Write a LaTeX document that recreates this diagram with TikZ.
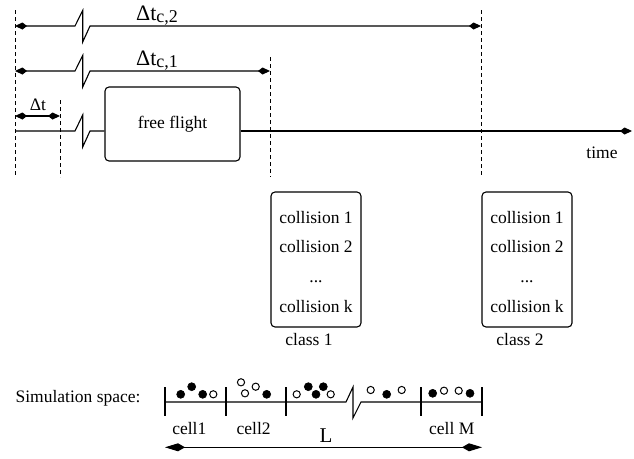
\documentclass[tikz,border=0pt]{standalone}
\usepackage{fontspec}
\setmainfont{Liberation Serif}
\usetikzlibrary{arrows.meta}
\begin{document}
\begin{tikzpicture}[x=1pt,y=-1pt,
  line width=1.1pt,
  txt/.style={font=\fontsize{17.5}{20}\selectfont, inner sep=0pt},
  guide/.style={line width=0.9pt, dash pattern=on 4pt off 3pt},
  tip/.tip={Kite[length=12pt,width=7pt,inset=4.5pt]},
  bigtip/.tip={Kite[length=20pt,width=8pt,inset=7pt]},
  dim/.style={tip-tip},
  bigdim/.style={bigtip-bigtip},
  box/.style={draw, rounded corners=4pt, inner sep=0pt, font=\fontsize{17.5}{20}\selectfont},
  colbox/.style={box, minimum width=90pt, minimum height=135pt},
  coltext/.style={inner sep=0pt, align=center, anchor=north,
    font=\fontsize{17.5}{29.7}\selectfont},
  full/.style={fill=black, draw=black, line width=0.6pt},
  hollow/.style={fill=white, draw=black, line width=1pt},
]
\useasboundingbox (0,0) rectangle (634,458);

% guide coordinates
\coordinate (g1t) at (15,10);   \coordinate (g1b) at (15,177);
\coordinate (g2t) at (60,100);  \coordinate (g2b) at (60,177);
\coordinate (g3t) at (270,57);  \coordinate (g3b) at (270,177);
\coordinate (g4t) at (481,10);  \coordinate (g4b) at (481,177);
\draw[guide] (g1t) -- (g1b);
\draw[guide] (g2t) -- (g2b);
\draw[guide] (g3t) -- (g3b);
\draw[guide] (g4t) -- (g4b);

% dimension Delta t_{c,2}
\coordinate (a2l) at (15,26); \coordinate (a2r) at (481,26);
\draw[dim] (a2l) -- (75,26) -- ++(7.7,-15.5) -- ++(0,31.5) -- (90,26) -- (a2r);
\node[anchor=base, inner sep=0pt] (lc2) at (157,20.7)
  {\fontsize{22}{24}\selectfont Δt\fontsize{18}{20}\selectfont\raisebox{-2pt}{c,2}};

% dimension Delta t_{c,1}
\coordinate (a1l) at (15,71); \coordinate (a1r) at (270,71);
\draw[dim] (a1l) -- (75,71) -- ++(7.7,-15.5) -- ++(0,31.5) -- (90,71) -- (a1r);
\node[anchor=base, inner sep=0pt] (lc1) at (157,65.3)
  {\fontsize{22}{24}\selectfont Δt\fontsize{18}{20}\selectfont\raisebox{-2pt}{c,1}};

% dimension Delta t
\coordinate (dl) at (15,116); \coordinate (dr) at (60,116);
\draw[dim] (dl) -- (dr);
\node[txt, anchor=base] (ldt) at (38,110) {Δt};

% time axis
\node[box, minimum width=135pt, minimum height=74pt] (ff) at (172.5,124) {free flight};
\coordinate (ts) at (15,131);
\coordinate (te) at (632,131);
\draw (ts) -- (75,131) -- ++(7.7,-16) -- ++(0,32) -- (90,131) -- (ff.west |- ts);
\draw[-tip] (ff.east |- ts) -- (te);
\node[txt, anchor=base] (time) at (602,158) {time};

% collision classes
\node[colbox] (c1) at (316,259.5) {};
\node[coltext] (c1t) at (316,210.5) {collision 1\\collision 2\\...\\collision k};
\node[colbox] (c2) at (527,259.5) {};
\node[coltext] (c2t) at (527,210.5) {collision 1\\collision 2\\...\\collision k};
\node[txt, anchor=base] (cl1) at (309,345) {class 1};
\node[txt, anchor=base] (cl2) at (520,345) {class 2};

% simulation space
\node[txt, anchor=base west] (sim) at (15,402.7) {Simulation space:};
\coordinate (s0) at (165,402);
\coordinate (s5) at (482,402);
\draw (s0) -- (346,402) -- (353,387) -- (353,418) -- (361,402) -- (s5);
\foreach \x/\n in {165/t0,226/t1,286/t2,421/t3,482/t4}
  \draw (\x,387) coordinate (\n a) -- (\x,416) coordinate (\n b);

% particles
\foreach \x/\y in {180.7/394.3,191.7/386.7,202.7/394.3,266.7/394.3,
                   308.3/386.7,316/394.3,323.3/386.7,386.7/394.3,432.7/393.3,470/393.3}
  \fill[full] (\x,\y) circle (4);
\foreach \x/\y in {213.3/394.3,241/382.3,245/393.3,255.7/386.7,296.7/394.3,330.7/394.3,
                   370.7/390,401.7/390,444/390.7,458.7/390.7}
  \draw[hollow] (\x,\y) circle (3.6);

\node[txt, anchor=base] (cell1) at (189.3,434.5) {cell1};
\node[txt, anchor=base] (cell2) at (253.7,434.5) {cell2};
\node[txt, anchor=base] (cellM) at (451.7,434) {cell M};
\node[anchor=base, inner sep=0pt, font=\fontsize{21}{24}\selectfont] (L) at (326,442) {L};

\coordinate (Ll) at (165,447.3); \coordinate (Lr) at (482,447.3);
\draw[bigdim] (Ll) -- (Lr);
\end{tikzpicture}
\end{document}
